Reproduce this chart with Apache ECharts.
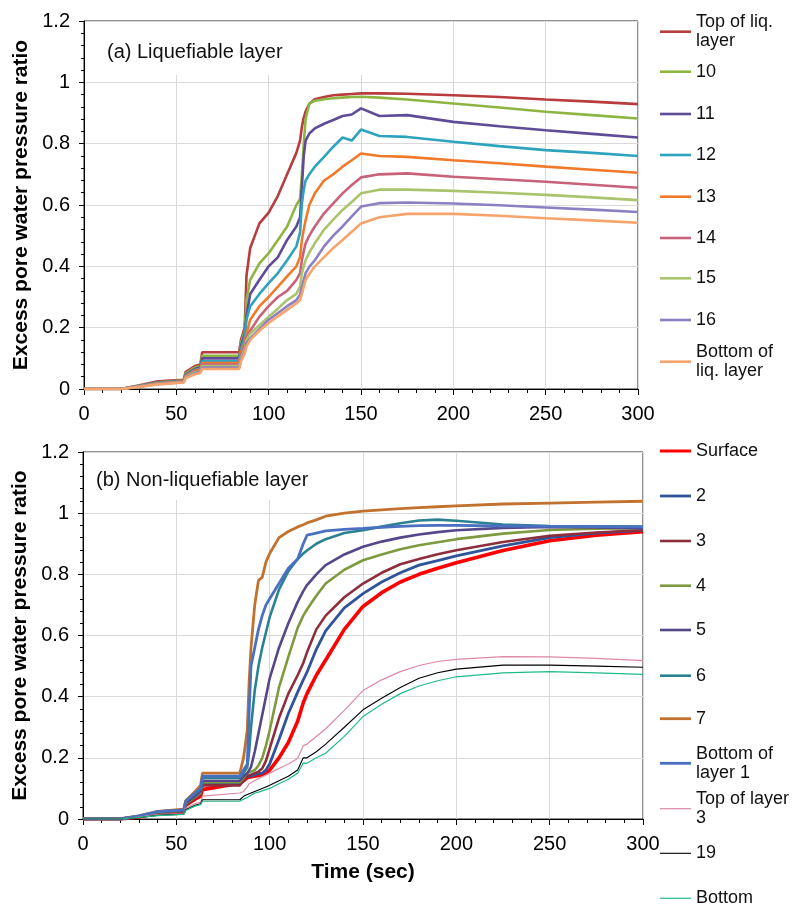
<!DOCTYPE html>
<html>
<head>
<meta charset="utf-8">
<script src="https://cdn.jsdelivr.net/npm/echarts@6/dist/echarts.min.js"></script>
<style>html,body{margin:0;padding:0;background:#fff}#c{width:792px;height:906px}</style>
</head>
<body>
<div id="c"></div>
<script>
// ---------- DATA ----------
const timeA = [0,20,30,40,54,55,60,63,64,84,85,87,88,90,95,100,105,110,115,117,118,119,120,122,125,130,135,140,145,150,160,175,200,225,250,275,300];
const namesA = ['Top of liq.\nlayer','10','11','12','13','14','15','16','Bottom of\nliq. layer'];
const topLiq  = [0,0,0.012,0.025,0.03,0.055,0.075,0.08,0.12,0.12,0.16,0.2,0.37,0.46,0.54,0.575,0.63,0.70,0.77,0.81,0.855,0.885,0.905,0.93,0.945,0.952,0.958,0.96,0.962,0.964,0.964,0.963,0.958,0.952,0.944,0.937,0.929];
const n10 = [0,0,0.011,0.022,0.028,0.05,0.07,0.075,0.108,0.108,0.15,0.19,0.29,0.356,0.41,0.443,0.486,0.53,0.60,0.62,0.70,0.80,0.88,0.93,0.94,0.945,0.948,0.95,0.952,0.953,0.95,0.944,0.931,0.918,0.904,0.893,0.882];
const n11 = [0,0,0.01,0.021,0.027,0.047,0.065,0.07,0.10,0.10,0.14,0.18,0.24,0.31,0.356,0.40,0.43,0.486,0.53,0.56,0.66,0.76,0.81,0.833,0.85,0.865,0.877,0.89,0.895,0.915,0.89,0.893,0.871,0.857,0.844,0.832,0.82];
const n12 = [0,0,0.01,0.02,0.026,0.045,0.062,0.066,0.09,0.09,0.13,0.17,0.226,0.27,0.31,0.345,0.378,0.42,0.465,0.51,0.605,0.65,0.68,0.70,0.725,0.757,0.79,0.82,0.81,0.846,0.825,0.822,0.806,0.792,0.779,0.77,0.76];
const n13 = [0,0,0.009,0.019,0.025,0.043,0.06,0.064,0.085,0.085,0.12,0.15,0.18,0.226,0.27,0.30,0.334,0.367,0.40,0.43,0.486,0.52,0.55,0.60,0.638,0.68,0.70,0.725,0.746,0.768,0.76,0.757,0.746,0.736,0.725,0.715,0.705];
const n14 = [0,0,0.009,0.018,0.024,0.041,0.057,0.061,0.08,0.08,0.11,0.14,0.17,0.19,0.236,0.27,0.30,0.32,0.356,0.378,0.42,0.45,0.475,0.50,0.53,0.573,0.605,0.638,0.665,0.69,0.70,0.703,0.692,0.684,0.676,0.666,0.656];
const n15 = [0,0,0.008,0.017,0.023,0.039,0.054,0.058,0.075,0.075,0.10,0.13,0.16,0.18,0.208,0.236,0.262,0.29,0.31,0.334,0.378,0.40,0.42,0.445,0.475,0.52,0.552,0.584,0.61,0.638,0.65,0.65,0.646,0.64,0.633,0.625,0.616];
const n16 = [0,0,0.008,0.016,0.022,0.037,0.051,0.055,0.07,0.07,0.095,0.12,0.15,0.165,0.195,0.226,0.248,0.27,0.29,0.307,0.334,0.355,0.378,0.398,0.42,0.465,0.50,0.53,0.563,0.595,0.606,0.608,0.605,0.599,0.592,0.585,0.577];
const botLiq = [0,0,0.007,0.015,0.021,0.035,0.048,0.052,0.065,0.065,0.09,0.115,0.139,0.16,0.19,0.215,0.237,0.258,0.28,0.29,0.31,0.333,0.356,0.375,0.40,0.43,0.46,0.486,0.513,0.54,0.56,0.571,0.571,0.565,0.557,0.55,0.542];
const valuesA = [topLiq,n10,n11,n12,n13,n14,n15,n16,botLiq];

const timeB = [0,20,30,40,54,55,60,63,64,84,86,88,89,90,92,94,96,98,100,105,110,115,118,120,125,130,140,150,160,170,180,190,200,225,250,275,300];
const namesB = ['Surface','2','3','4','5','6','7','Bottom of\nlayer 1','Top of layer\n3','19','Bottom'];
const surface = [0,0,0.007,0.018,0.024,0.045,0.065,0.075,0.096,0.117,0.125,0.135,0.136,0.138,0.14,0.142,0.145,0.15,0.16,0.2,0.25,0.32,0.38,0.41,0.47,0.52,0.62,0.695,0.74,0.775,0.80,0.82,0.838,0.878,0.91,0.928,0.939];
const m2 = [0,0,0.008,0.02,0.026,0.048,0.07,0.082,0.115,0.115,0.13,0.14,0.14,0.14,0.145,0.148,0.15,0.16,0.18,0.26,0.345,0.415,0.455,0.48,0.555,0.615,0.69,0.737,0.775,0.805,0.83,0.845,0.86,0.893,0.92,0.935,0.944];
const m3 = [0,0,0.008,0.02,0.026,0.048,0.068,0.08,0.11,0.11,0.125,0.14,0.142,0.145,0.15,0.155,0.165,0.19,0.23,0.33,0.41,0.47,0.51,0.545,0.62,0.665,0.725,0.77,0.805,0.833,0.85,0.866,0.879,0.906,0.926,0.937,0.944];
const m4 = [0,0,0.009,0.021,0.027,0.05,0.072,0.085,0.12,0.12,0.135,0.15,0.152,0.155,0.16,0.175,0.2,0.24,0.29,0.43,0.53,0.625,0.665,0.685,0.73,0.77,0.815,0.846,0.865,0.882,0.895,0.905,0.915,0.933,0.945,0.949,0.951];
const m5 = [0,0,0.009,0.022,0.028,0.052,0.075,0.09,0.125,0.125,0.14,0.15,0.16,0.17,0.22,0.28,0.34,0.40,0.46,0.56,0.64,0.71,0.745,0.765,0.80,0.83,0.865,0.89,0.907,0.92,0.93,0.938,0.944,0.952,0.955,0.953,0.95];
const m6 = [0,0,0.01,0.024,0.03,0.057,0.083,0.098,0.135,0.135,0.15,0.17,0.22,0.30,0.42,0.50,0.56,0.61,0.66,0.75,0.81,0.85,0.868,0.878,0.90,0.915,0.935,0.944,0.956,0.967,0.976,0.979,0.975,0.963,0.958,0.957,0.956];
const m7 = [0,0,0.01,0.025,0.032,0.06,0.09,0.11,0.15,0.15,0.2,0.29,0.45,0.56,0.70,0.78,0.79,0.84,0.868,0.92,0.94,0.955,0.962,0.968,0.978,0.99,1.0,1.007,1.011,1.015,1.018,1.021,1.024,1.03,1.033,1.036,1.039];
const botL1 = [0,0,0.01,0.024,0.03,0.058,0.085,0.1,0.14,0.14,0.16,0.18,0.35,0.5,0.56,0.62,0.665,0.70,0.72,0.77,0.82,0.85,0.90,0.928,0.935,0.942,0.947,0.95,0.954,0.957,0.959,0.96,0.96,0.958,0.957,0.956,0.955];
const topL3 = [0,0,0.006,0.014,0.018,0.035,0.05,0.055,0.075,0.085,0.09,0.105,0.115,0.12,0.126,0.132,0.138,0.144,0.15,0.165,0.18,0.198,0.24,0.245,0.27,0.295,0.355,0.42,0.455,0.482,0.502,0.515,0.522,0.531,0.53,0.525,0.518];
const m19 = [0,0,0.005,0.012,0.016,0.03,0.045,0.05,0.063,0.063,0.074,0.08,0.082,0.085,0.09,0.095,0.1,0.105,0.11,0.125,0.14,0.16,0.2,0.2,0.22,0.245,0.3,0.357,0.395,0.43,0.46,0.478,0.49,0.503,0.503,0.5,0.496];
const bottom = [0,0,0.005,0.011,0.015,0.028,0.042,0.047,0.058,0.058,0.065,0.07,0.072,0.078,0.085,0.088,0.092,0.096,0.1,0.115,0.13,0.15,0.183,0.182,0.2,0.215,0.27,0.335,0.375,0.41,0.435,0.452,0.465,0.478,0.482,0.478,0.473];
const valuesB = [surface,m2,m3,m4,m5,m6,m7,botL1,topL3,m19,bottom];

const xTicks = {min:0, max:300, interval:50};
const yTicks = {min:0, max:1.2, interval:0.2};

// ---------- STYLE ----------
const colorsA = ['#B83B3E','#8DB542','#5F4B96','#2EA3BD','#F07A2A','#C8627A','#AAC46E','#8C80C2','#F6A46C'];
const widthsA = [2.6,2.6,2.6,2.6,2.6,2.6,2.6,2.6,2.6];
const colorsB = ['#FF0000','#2F549A','#8E2E3C','#7E9A3E','#56478A','#2A8290','#C2722F','#4A70C2','#DE88A4','#000000','#1FBB88'];
const widthsB = [3.6,2.8,2.6,2.6,2.6,2.6,2.8,2.8,1.2,1.1,1.2];
const legendYA = [31.7,71.7,114,155,196.7,238,278.3,320,361.7];
const legendYB = [451,496,541,585.7,630,675.7,718.7,763.3,808.7,853.3,898.3];

const FONT = "'Liberation Sans', Arial, sans-serif";
const LH = 19;

function mkSeries(names, vals, times, colors, widths, gi){
  return names.map((n,i)=>({
    name:n, type:'line', xAxisIndex:gi, yAxisIndex:gi, symbol:'none', animation:false,
    data: times.map((t,k)=>[t, vals[i][k]]),
    lineStyle:{color:colors[i], width:widths[i]}, itemStyle:{color:colors[i]}
  }));
}
function mkLegends(names, ys, widths){
  return names.map((n,i)=>{
    const multi = n.indexOf('\n')>=0;
    const h = Math.max(1, Math.min(3, widths[i]));
    return {
      data:[n], orient:'vertical', left:660, top: ys[i] - (multi ? 1.5*LH : 0.5*LH),
      padding:0, itemGap:0, itemWidth:31, itemHeight:h, icon:'rect', selectedMode:false,
      textStyle:{fontFamily:FONT, fontSize:18, lineHeight:LH, color:'#111', padding: multi?[LH,0,0,0]:0}
    };
  });
}
function mkX(gi, withName){
  const a = {
    type:'value', gridIndex:gi, min:xTicks.min, max:xTicks.max, interval:xTicks.interval,
    axisLine:{show:true, lineStyle:{color:'#000', width:1}},
    axisTick:{show:true, length:6, lineStyle:{color:'#000'}},
    minorTick:{show:true, splitNumber:5, length:4, lineStyle:{color:'#000'}},
    splitLine:{show:true, lineStyle:{color:'#D9D9D9', width:1}},
    axisLabel:{fontFamily:FONT, fontSize:20, color:'#000', margin:15}
  };
  if (withName){
    a.name = 'Time (sec)'; a.nameLocation='middle'; a.nameGap=43;
    a.nameTextStyle={fontFamily:FONT, fontSize:21, fontWeight:'bold', color:'#000'};
  }
  return a;
}
function mkY(gi){
  return {
    type:'value', gridIndex:gi, min:yTicks.min, max:yTicks.max, interval:yTicks.interval,
    name:'Excess pore water pressure ratio', nameLocation:'middle', nameGap:51,
    nameTextStyle:{fontFamily:FONT, fontSize:21, fontWeight:'bold', color:'#000'},
    axisLine:{show:true, lineStyle:{color:'#000', width:1}},
    axisTick:{show:true, length:5, lineStyle:{color:'#000'}},
    minorTick:{show:true, splitNumber:5, length:3, lineStyle:{color:'#000'}},
    splitLine:{show:true, lineStyle:{color:'#D9D9D9', width:1}},
    axisLabel:{fontFamily:FONT, fontSize:20, color:'#000', margin:14}
  };
}

const chart = echarts.init(document.getElementById('c'), null, {renderer:'canvas'});
chart.setOption({
  backgroundColor:'#fff',
  animation:false,
  title:[
    {text:'(a) Liquefiable layer', left:85, top:22, padding:[20,90,13,22], backgroundColor:'#fff',
     textStyle:{fontFamily:FONT, fontSize:20, fontWeight:'normal', color:'#111', lineHeight:20}},
    {text:'(b) Non-liquefiable layer', left:84, top:453, padding:[17,32,10,12], backgroundColor:'#fff',
     textStyle:{fontFamily:FONT, fontSize:20, fontWeight:'normal', color:'#111', lineHeight:20}}
  ],
  grid:[
    {left:84, top:21, width:554, height:368, show:true, borderColor:'#222', borderWidth:1, backgroundColor:'#fff'},
    {left:83, top:452, width:560, height:367, show:true, borderColor:'#222', borderWidth:1, backgroundColor:'#fff'}
  ],
  xAxis:[mkX(0,false), mkX(1,true)],
  yAxis:[mkY(0), mkY(1)],
  legend:[...mkLegends(namesA, legendYA, widthsA), ...mkLegends(namesB, legendYB, widthsB)],
  series:[...mkSeries(namesA, valuesA, timeA, colorsA, widthsA, 0), ...mkSeries(namesB, valuesB, timeB, colorsB, widthsB, 1)]
});
</script>
</body>
</html>
